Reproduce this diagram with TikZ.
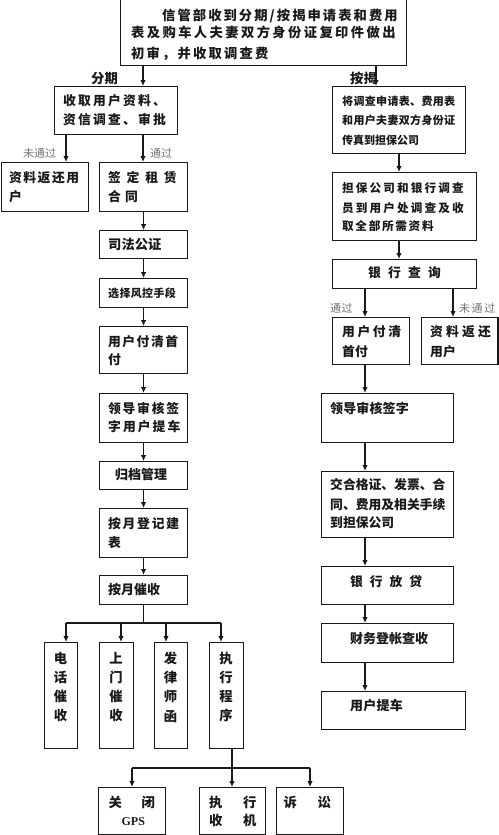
\documentclass[tikz,border=0pt]{standalone}
\usepackage{fontspec}
\setmainfont{Noto Sans CJK SC}
\newfontfamily\tms{Liberation Serif}
\usetikzlibrary{arrows.meta,calc}
\newcommand\CF[2]{\fontsize{#1}{#1}\selectfont\bfseries\addfontfeature{LetterSpace=#2}}
\newcommand\CR[2]{\fontsize{#1}{#1}\selectfont\addfontfeature{LetterSpace=#2}}
\newcommand\tline[6]{\node[txt,font=\CF{#4}{#5}] (#1) at (#2,#3) {#6};}
\newcommand\bxn[5]{\node[bx,anchor=north west,inner sep=0pt,minimum width={(#4-#2)*1pt},minimum height={(#5-#3)*1pt}] (#1) at (#2,#3) {};}
\tikzset{
 bx/.style={draw=black!90, line width=1.1pt},
 arr/.style={draw=black!90, line width=1.1pt, -{Latex[length=6pt,width=5.5pt]}},
 ln/.style={draw=black!90, line width=1.1pt},
 txt/.style={anchor=base west, inner sep=0pt, text=black!90},
 lbl/.style={anchor=base west, inner sep=0pt, text=black!55},
 vtx/.style={anchor=center, inner sep=0pt, align=center, text=black!90, font={\fontsize{13.3}{19.3}\selectfont\bfseries}},
}
\begin{document}
\begin{tikzpicture}[x=1pt,y=-1pt]
\useasboundingbox (0,0) rectangle (498,835);
\fill[white] (0,0) rectangle (498,835);
% boxes
\bxn{top}{120}{-5}{406}{65}
\bxn{A}{54}{86}{177}{134}
\bxn{Lret}{0.6}{162}{88}{211}
\bxn{sign}{99}{162}{187}{211}
\bxn{nota}{99}{230}{187}{258}
\bxn{risk}{99}{278}{187}{307}
\bxn{pay}{99}{326}{187}{373}
\bxn{lead}{99}{393}{187}{442}
\bxn{arch}{99}{461}{187}{489}
\bxn{reg}{99}{508}{187}{557}
\bxn{coll}{99}{575}{187}{604}
\bxn{V1}{44}{642}{77}{748}
\bxn{V2}{99}{642}{133}{748}
\bxn{V3}{154}{642}{187}{748}
\bxn{V4}{209}{642}{243}{748}
\bxn{B1}{98}{787}{165}{833.5}
\bxn{B2}{199}{787}{265}{833.5}
\bxn{B3}{276}{787}{343}{833.5}
\bxn{R1}{332}{86}{465}{153}
\bxn{R2}{332}{172}{476}{240}
\bxn{R3}{332}{259}{476}{288}
\bxn{R4}{332}{317}{409}{364}
\bxn{R5}{421}{317}{497.4}{364}
\bxn{R6}{321}{393}{453}{442}
\bxn{R7}{321}{471}{453}{537}
\bxn{R8}{321}{566}{453}{604}
\bxn{R9}{321}{623}{453}{662}
\bxn{R10}{321}{691}{465}{729}
% guide coordinates
\coordinate (xl) at (143,0);
\coordinate (xr) at (376,0);
\coordinate (xrl) at (66,0);
\coordinate (xr2) at (399,0);
\coordinate (xr3) at (365,0);
\coordinate (xr5) at (453,0);
\coordinate (b1) at (66,623);
\coordinate (b2) at (121,623);
\coordinate (b3) at (166,623);
\coordinate (b4) at (221,623);
\coordinate (c1) at (132,768);
\coordinate (c2) at (232,768);
\coordinate (c3) at (310,768);
% connectors left
\draw[arr] (top.south -| xl) -- (A.north -| xl);
\draw[arr] (top.south -| xr) -- (R1.north -| xr);
\draw[arr] (A.south -| xrl) -- (Lret.north -| xrl);
\draw[arr] (A.south -| xl) -- (sign.north -| xl);
\draw[arr] (sign.south) -- (nota.north);
\draw[arr] (nota.south) -- (risk.north);
\draw[arr] (risk.south) -- (pay.north);
\draw[arr] (pay.south) -- (lead.north);
\draw[arr] (lead.south) -- (arch.north);
\draw[arr] (arch.south) -- (reg.north);
\draw[arr] (reg.south) -- (coll.north);
\draw[ln] (coll.south) -- (coll.south |- b1);
\draw[ln] (b1) -- (b4);
\draw[arr] (b1) -- (b1 |- V1.north);
\draw[arr] (b2) -- (b2 |- V2.north);
\draw[arr] (b3) -- (b3 |- V3.north);
\draw[arr] (b4) -- (b4 |- V4.north);
\draw[ln] (V4.south -| c2) -- (c2);
\draw[ln] (c1) -- (c3);
\draw[arr] (c1) -- (c1 |- B1.north);
\draw[arr] (c2) -- (c2 |- B2.north);
\draw[arr] (c3) -- (c3 |- B3.north);
% connectors right
\draw[arr] (R1.south -| xr2) -- (R2.north -| xr2);
\draw[arr] (R2.south -| xr2) -- (R3.north -| xr2);
\draw[arr] (R3.south -| xr3) -- (R4.north -| xr3);
\draw[arr] (R3.south -| xr5) -- (R5.north -| xr5);
\draw[arr] (R4.south -| xr3) -- (R6.north -| xr3);
\draw[arr] (R6.south -| xr3) -- (R7.north -| xr3);
\draw[arr] (R7.south -| xr3) -- (R8.north -| xr3);
\draw[arr] (R8.south -| xr3) -- (R9.north -| xr3);
\draw[arr] (R9.south -| xr3) -- (R10.north -| xr3);
% labels
\node[txt,font=\CF{13.3}{0}] (lfq) at (91,83.05) {分期};
\node[txt,font=\CF{13.3}{0}] (laj) at (350,83.05) {按揭};
\node[lbl,font=\CR{11}{0}] (lwtg1) at (23,157.2) {未通过};
\node[lbl,font=\CR{11}{0}] (ltg1) at (150,157.2) {通过};
\node[lbl,font=\CR{11}{5}] (ltg2) at (330,312.2) {通过};
\node[lbl,font=\CR{11}{14}] (lwtg2) at (459,312.2) {未通过};
% texts: top
\tline{t1}{162}{20.05}{13.3}{15.5}{信管部收到分期/按揭申请表和费用}
\tline{t2}{131}{37.05}{13.3}{18}{表及购车人夫妻双方身份证复印件做出}
\tline{t3}{131}{58.05}{13.3}{16.5}{初审，并收取调查费}
% left column
\tline{a1}{63}{105.86}{12.8}{17}{收取用户资料、}
\tline{a2}{63}{124.86}{12.8}{17}{资信调查、审批}
\tline{lr1}{9}{182.86}{12.8}{11.5}{资料返还用}
\tline{lr2}{9}{201.86}{12.8}{11.5}{户}
\tline{sg1}{108}{182.86}{12.8}{45}{签定租赁}
\tline{sg2}{108}{201.86}{12.8}{33}{合同}
\tline{nt}{108}{249.05}{13.3}{0}{司法公证}
\tline{rk}{108}{297}{11}{3}{选择风控手段}
\tline{py1}{108}{346.86}{12.8}{11.5}{用户付清首}
\tline{py2}{108}{364.86}{12.8}{11.5}{付}
\tline{ld1}{108}{413.86}{12.8}{13.5}{领导审核签}
\tline{ld2}{108}{431.86}{12.8}{16}{字用户提车}
\tline{ar}{115}{479.94}{13}{0}{归档管理}
\tline{rg1}{108}{528.86}{12.8}{13.5}{按月登记建}
\tline{rg2}{108}{547.86}{12.8}{13.5}{表}
\tline{cl}{108}{594.94}{13}{0}{按月催收}
\node[vtx] (v1t) at (60.5,687) {电\\话\\催\\收};
\node[vtx] (v2t) at (116,687) {上\\门\\催\\收};
\node[vtx] (v3t) at (170.5,687) {发\\律\\师\\函};
\node[vtx] (v4t) at (226,687) {执\\行\\程\\序};
\tline{bt1}{108.35}{807.05}{13.3}{0}{关\hspace{19.7pt}闭}
\node[anchor=base,inner sep=0pt,text=black!90,font={\tms\bfseries\fontsize{12}{12}\selectfont}] (gps) at (133.3,825) {GPS};
\tline{bt2}{208.85}{807.05}{13.3}{0}{执\hspace{20.7pt}行}
\tline{bt3}{208.85}{825.75}{13.3}{0}{收\hspace{20.7pt}机}
\tline{bt4}{283.35}{807.05}{13.3}{0}{诉\hspace{20.7pt}讼}
% right column
\tline{r11}{342}{105.18}{11}{3}{将调查申请表、费用表}
\tline{r12}{342}{124.18}{11}{3}{和用户夫妻双方身份证}
\tline{r13}{342}{144.18}{11}{0}{传真到担保公司}
\tline{r21}{342}{192.4}{11.6}{18.5}{担保公司和银行调查}
\tline{r22}{342}{212.4}{11.6}{18.5}{员到用户处调查及收}
\tline{r23}{342}{230.4}{11.6}{14.7}{取全部所需资料}
\tline{r3}{368}{277.86}{12.8}{56}{银行查询}
\tline{r41}{342}{336.86}{12.8}{20}{用户付清}
\tline{r42}{342}{356.86}{12.8}{1}{首付}
\tline{r51}{430}{336.86}{12.8}{24.7}{资料返还}
\tline{r52}{430}{356.86}{12.8}{0}{用户}
\tline{r6}{330}{413.94}{13}{1}{领导审核签字}
\tline{r71}{330}{489.86}{12.8}{0}{交合格证、发票、合}
\tline{r72}{330}{509.86}{12.8}{0}{同、费用及相关手续}
\tline{r73}{330}{527.86}{12.8}{0}{到担保公司}
\tline{r8}{350}{586.86}{12.8}{54}{银行放贷}
\tline{r9}{350}{643.94}{13}{0}{财务登帐查收}
\tline{r10}{350}{710.94}{13}{2}{用户提车}
\end{tikzpicture}
\end{document}
